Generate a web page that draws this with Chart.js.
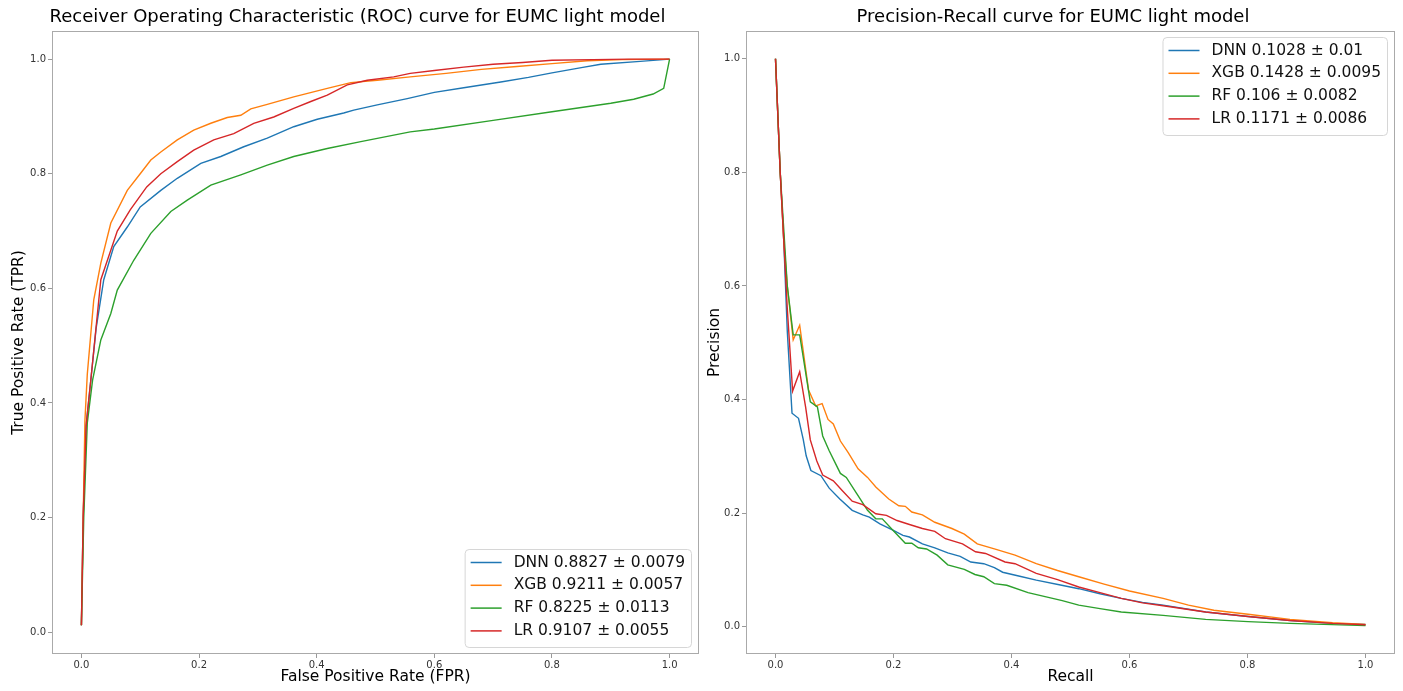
<!DOCTYPE html>
<html>
<head>
<meta charset="utf-8">
<script src="https://cdn.jsdelivr.net/npm/chart.js@4.4.0/dist/chart.umd.min.js"></script>
<style>
  html, body { margin: 0; padding: 0; background: #fff; }
  #wrap { position: relative; width: 1403px; height: 691px; }
  .box { position: absolute; top: 0; height: 691px; }
</style>
</head>
<body>
<div id="wrap">
  <div class="box" style="left:0;width:700px"><canvas id="roc" width="700" height="691"></canvas></div>
  <div class="box" style="left:700px;width:703px"><canvas id="pr" width="703" height="691"></canvas></div>
</div>
<script>
const FONT = "'DejaVu Sans', sans-serif";

const models = ['DNN', 'XGB', 'RF', 'LR'];
const colors = ['#1f77b4', '#ff7f0e', '#2ca02c', '#d62728'];
const rocScores = ['0.8827 ± 0.0079', '0.9211 ± 0.0057', '0.8225 ± 0.0113', '0.9107 ± 0.0055'];
const prScores = ['0.1028 ± 0.01', '0.1428 ± 0.0095', '0.106 ± 0.0082', '0.1171 ± 0.0086'];
const tickVals = [0, 0.2, 0.4, 0.6, 0.8, 1.0];

// ROC curves (FPR -> TPR)
const rocFprDNN = [0, 0.003, 0.008, 0.016, 0.025, 0.038, 0.055, 0.078, 0.10, 0.135, 0.163, 0.203, 0.237, 0.276, 0.316, 0.361, 0.401, 0.446, 0.463, 0.503, 0.554, 0.60, 0.65, 0.713, 0.76, 0.80, 0.85, 0.883, 0.95, 1.0];
const rocTprDNN = [0.012, 0.2, 0.36, 0.44, 0.53, 0.615, 0.673, 0.707, 0.742, 0.771, 0.792, 0.818, 0.830, 0.847, 0.862, 0.882, 0.895, 0.906, 0.911, 0.920, 0.931, 0.942, 0.950, 0.960, 0.968, 0.976, 0.985, 0.991, 0.996, 1.0];
const rocFprXGB = [0, 0.003, 0.006, 0.01, 0.021, 0.033, 0.05, 0.078, 0.10, 0.118, 0.135, 0.163, 0.191, 0.22, 0.248, 0.271, 0.288, 0.316, 0.361, 0.418, 0.458, 0.503, 0.559, 0.62, 0.68, 0.74, 0.80, 0.86, 0.92, 1.0];
const rocTprXGB = [0.012, 0.2, 0.37, 0.45, 0.58, 0.644, 0.714, 0.771, 0.80, 0.824, 0.838, 0.859, 0.876, 0.888, 0.898, 0.902, 0.913, 0.921, 0.934, 0.949, 0.959, 0.963, 0.969, 0.975, 0.982, 0.987, 0.992, 0.997, 0.999, 1.0];
const rocFprRF = [0, 0.004, 0.01, 0.019, 0.033, 0.05, 0.061, 0.089, 0.118, 0.152, 0.18, 0.22, 0.271, 0.316, 0.361, 0.418, 0.475, 0.559, 0.60, 0.70, 0.80, 0.90, 0.939, 0.972, 0.99, 1.0];
const rocTprRF = [0.012, 0.2, 0.365, 0.44, 0.51, 0.556, 0.597, 0.649, 0.696, 0.734, 0.754, 0.78, 0.798, 0.815, 0.830, 0.844, 0.856, 0.873, 0.878, 0.893, 0.908, 0.923, 0.930, 0.939, 0.949, 1.0];
const rocFprLR = [0, 0.003, 0.008, 0.016, 0.033, 0.061, 0.083, 0.111, 0.135, 0.163, 0.191, 0.225, 0.259, 0.293, 0.327, 0.361, 0.39, 0.418, 0.452, 0.486, 0.531, 0.559, 0.60, 0.65, 0.70, 0.75, 0.80, 0.87, 0.93, 1.0];
const rocTprLR = [0.012, 0.2, 0.36, 0.44, 0.615, 0.70, 0.737, 0.777, 0.80, 0.821, 0.841, 0.859, 0.870, 0.888, 0.899, 0.914, 0.926, 0.937, 0.955, 0.963, 0.969, 0.975, 0.980, 0.986, 0.991, 0.994, 0.998, 0.999, 1.0, 1.0];

// Precision-recall curves (recall -> precision)
const prRecDNN = [0, 0.008, 0.014, 0.02, 0.028, 0.039, 0.047, 0.052, 0.060, 0.077, 0.091, 0.109, 0.130, 0.148, 0.159, 0.177, 0.199, 0.216, 0.227, 0.249, 0.270, 0.292, 0.313, 0.331, 0.353, 0.371, 0.385, 0.414, 0.442, 0.485, 0.514, 0.550, 0.586, 0.622, 0.657, 0.729, 0.801, 0.872, 0.944, 1.0];
const prPreDNN = [1.0, 0.80, 0.68, 0.52, 0.376, 0.367, 0.33, 0.301, 0.275, 0.266, 0.244, 0.225, 0.205, 0.197, 0.193, 0.181, 0.170, 0.161, 0.158, 0.146, 0.139, 0.130, 0.124, 0.114, 0.111, 0.104, 0.096, 0.089, 0.082, 0.073, 0.067, 0.058, 0.050, 0.043, 0.038, 0.026, 0.018, 0.011, 0.006, 0.004];
const prRecXGB = [0, 0.008, 0.014, 0.02, 0.03, 0.041, 0.056, 0.068, 0.079, 0.089, 0.098, 0.110, 0.123, 0.140, 0.156, 0.170, 0.192, 0.209, 0.220, 0.231, 0.249, 0.270, 0.299, 0.320, 0.342, 0.371, 0.406, 0.442, 0.478, 0.514, 0.557, 0.600, 0.657, 0.700, 0.743, 0.801, 0.872, 0.944, 1.0];
const prPreXGB = [1.0, 0.80, 0.68, 0.60, 0.505, 0.531, 0.417, 0.389, 0.393, 0.365, 0.357, 0.327, 0.307, 0.278, 0.263, 0.246, 0.225, 0.213, 0.212, 0.202, 0.197, 0.184, 0.173, 0.163, 0.146, 0.137, 0.126, 0.111, 0.099, 0.088, 0.075, 0.063, 0.050, 0.038, 0.029, 0.022, 0.013, 0.007, 0.004];
const prRecRF = [0, 0.008, 0.014, 0.02, 0.03, 0.041, 0.059, 0.071, 0.080, 0.091, 0.110, 0.120, 0.138, 0.156, 0.170, 0.181, 0.199, 0.220, 0.231, 0.242, 0.256, 0.274, 0.292, 0.320, 0.338, 0.353, 0.371, 0.392, 0.428, 0.457, 0.486, 0.514, 0.550, 0.586, 0.657, 0.729, 0.801, 0.872, 1.0];
const prPreRF = [1.0, 0.80, 0.70, 0.60, 0.514, 0.514, 0.396, 0.387, 0.336, 0.310, 0.270, 0.263, 0.234, 0.205, 0.190, 0.190, 0.170, 0.147, 0.147, 0.139, 0.137, 0.126, 0.109, 0.101, 0.092, 0.088, 0.076, 0.073, 0.060, 0.053, 0.046, 0.038, 0.032, 0.026, 0.020, 0.013, 0.009, 0.006, 0.002];
const prRecLR = [0, 0.008, 0.014, 0.02, 0.029, 0.041, 0.051, 0.059, 0.070, 0.080, 0.098, 0.113, 0.130, 0.148, 0.170, 0.188, 0.206, 0.227, 0.249, 0.270, 0.288, 0.317, 0.339, 0.356, 0.389, 0.406, 0.442, 0.478, 0.514, 0.550, 0.586, 0.622, 0.657, 0.729, 0.801, 0.872, 0.944, 1.0];
const prPreLR = [1.0, 0.80, 0.68, 0.56, 0.415, 0.449, 0.387, 0.329, 0.292, 0.267, 0.257, 0.240, 0.221, 0.215, 0.199, 0.196, 0.187, 0.180, 0.173, 0.168, 0.155, 0.146, 0.132, 0.129, 0.114, 0.111, 0.094, 0.083, 0.070, 0.060, 0.050, 0.042, 0.037, 0.026, 0.018, 0.011, 0.006, 0.0035];

const rocX = [rocFprDNN, rocFprXGB, rocFprRF, rocFprLR];
const rocY = [rocTprDNN, rocTprXGB, rocTprRF, rocTprLR];
const prX = [prRecDNN, prRecXGB, prRecRF, prRecLR];
const prY = [prPreDNN, prPreXGB, prPreRF, prPreLR];

// box around the plot area, like matplotlib spines
const frame = {
  id: 'frame',
  afterDatasetsDraw(chart) {
    const a = chart.chartArea, ctx = chart.ctx;
    ctx.save();
    ctx.strokeStyle = '#aaa';
    ctx.lineWidth = 1;
    ctx.strokeRect(Math.round(a.left) + 0.5, Math.round(a.top) + 0.5,
      Math.round(a.right - a.left) - 1, Math.round(a.bottom - a.top) - 1);
    ctx.restore();
  }
};

// legend drawn inside the plot area
const boxLegend = {
  id: 'boxLegend',
  afterDraw(chart, args, o) {
    const ctx = chart.ctx, a = chart.chartArea;
    ctx.save();
    ctx.font = o.size + 'px ' + FONT;
    const w = 49 + Math.max(...o.labels.map(t => ctx.measureText(t).width)) + 6;
    const h = 98;
    const x = a.right - 8 - w;
    const y = o.where === 'top' ? a.top + 6 : a.bottom - 7 - h;
    ctx.beginPath();
    ctx.roundRect(x + 0.5, y + 0.5, w, h, 4);
    ctx.fillStyle = 'rgba(255,255,255,0.8)';
    ctx.fill();
    ctx.strokeStyle = '#d6d6d6';
    ctx.lineWidth = 1;
    ctx.stroke();
    o.labels.forEach((t, i) => {
      const cy = y + 13.5 + i * 22.8;
      ctx.strokeStyle = colors[i];
      ctx.lineWidth = 1.5;
      ctx.beginPath();
      ctx.moveTo(x + 6, cy);
      ctx.lineTo(x + 37, cy);
      ctx.stroke();
      ctx.fillStyle = '#111';
      ctx.textBaseline = 'middle';
      ctx.fillText(t, x + 49, cy);
    });
    ctx.restore();
  }
};

function series(xs, ys, scores) {
  return models.map((m, i) => ({
    label: m + ' ' + scores[i],
    data: xs[i].map((v, k) => ({ x: v, y: ys[i][k] })),
    borderColor: colors[i],
    backgroundColor: colors[i],
    borderWidth: 1.4,
    pointRadius: 0,
    showLine: true,
    fill: false,
    tension: 0,
    order: 4 - i
  }));
}

function axisX(title) {
  return {
    type: 'linear', min: -0.05, max: 1.05,
    afterBuildTicks: s => { s.ticks = tickVals.map(v => ({ value: v })); },
    afterFit: s => { s.height = 37; },
    ticks: { autoSkip: false, maxRotation: 0, padding: 1, color: '#333',
      font: { size: 10, family: FONT }, callback: v => v.toFixed(1) },
    grid: { display: true, drawOnChartArea: false, drawTicks: true, tickLength: 4, color: '#999', tickColor: '#999' },
    border: { display: false },
    title: { display: true, text: title, color: '#000', font: { size: 15.5, family: FONT }, padding: { top: 0, bottom: 5 } }
  };
}

function axisY(title, min, max, width, pad) {
  return {
    type: 'linear', min: min, max: max,
    afterBuildTicks: s => { s.ticks = tickVals.map(v => ({ value: v })); },
    afterFit: s => { s.width = width; },
    ticks: { autoSkip: false, padding: 2, color: '#333',
      font: { size: 10, family: FONT }, callback: v => v.toFixed(1) },
    grid: { display: true, drawOnChartArea: false, drawTicks: true, tickLength: 4, color: '#999', tickColor: '#999' },
    border: { display: false },
    title: { display: true, text: title, color: '#000', font: { size: 15.5, family: FONT }, padding: { top: pad, bottom: 0 } }
  };
}

function makeChart(id, cfg) {
  return new Chart(document.getElementById(id), {
    type: 'scatter',
    data: { datasets: series(cfg.xs, cfg.ys, cfg.scores) },
    plugins: [frame, boxLegend],
    options: {
      responsive: false,
      animation: false,
      events: [],
      layout: { autoPadding: false, padding: cfg.padding },
      scales: {
        x: axisX(cfg.xTitle),
        y: axisY(cfg.yTitle, cfg.yMin, cfg.yMax, cfg.yWidth, cfg.yPad)
      },
      plugins: {
        legend: { display: false },
        tooltip: { enabled: false },
        title: { display: true, text: cfg.title, color: '#000',
          font: { size: 18, family: FONT, weight: 'normal' }, padding: { top: 7, bottom: 2.4 } },
        boxLegend: { labels: models.map((m, i) => m + ' ' + cfg.scores[i]), where: cfg.legendAt, size: 15.5 }
      }
    }
  });
}

makeChart('roc', {
  xs: rocX, ys: rocY, scores: rocScores,
  title: 'Receiver Operating Characteristic (ROC) curve for EUMC light model',
  xTitle: 'False Positive Rate (FPR)', yTitle: 'True Positive Rate (TPR)',
  yMin: -0.038, yMax: 1.049, yWidth: 36, yPad: -6,
  padding: { left: 16, right: 1, top: 0, bottom: 0 },
  legendAt: 'bottom'
});

makeChart('pr', {
  xs: prX, ys: prY, scores: prScores,
  title: 'Precision-Recall curve for EUMC light model',
  xTitle: 'Recall', yTitle: 'Precision',
  yMin: -0.048, yMax: 1.049, yWidth: 35, yPad: -5,
  padding: { left: 11, right: 8, top: 0, bottom: 0 },
  legendAt: 'top'
});
</script>
</body>
</html>
